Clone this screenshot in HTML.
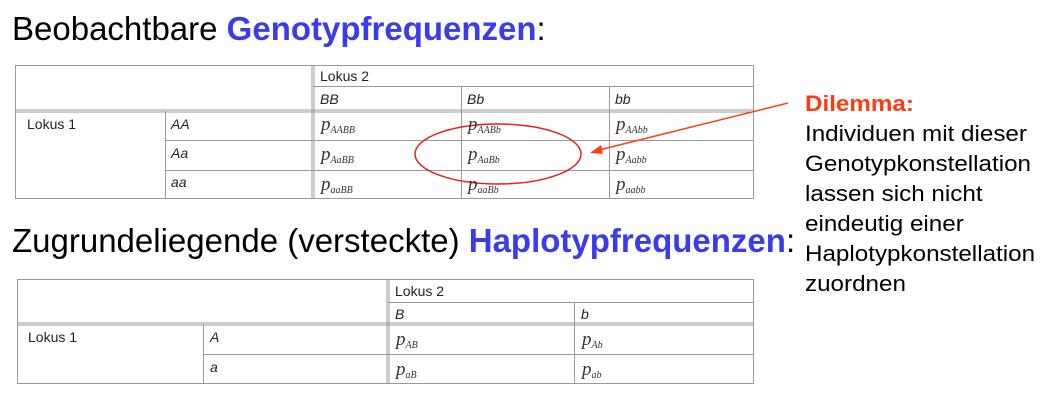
<!DOCTYPE html>
<html><head><meta charset="utf-8"><style>
body{margin:0;width:1049px;height:402px;background:#fff;position:relative;overflow:hidden;font-family:"Liberation Sans",sans-serif}
.t{position:absolute;white-space:nowrap}
.h{font-size:33px;color:#000}
.b{color:#3a3af0;font-weight:bold}
.c{position:absolute;font-family:"Liberation Sans",sans-serif;font-size:14px;color:#222}
.i{font-style:italic}
.p{position:absolute;font-family:"Liberation Serif",serif;font-style:italic;font-size:19px;color:#333}
.p sub{font-size:10px;vertical-align:-3px}
.r{position:absolute;font-size:22px;line-height:30px;color:#000;white-space:nowrap;transform:scaleX(1.1);transform-origin:0 0}
</style></head><body>
<div class="t h" style="left:12px;top:10px">Beobachtbare <span class="b">Genotypfrequenzen</span>:</div>
<div class="t h" style="left:12px;top:222px">Zugrundeliegende (versteckte) <span class="b">Haplotypfrequenzen</span>:</div>
<svg width="1049" height="402" style="position:absolute;left:0;top:0">
<g stroke="#999" stroke-width="1" fill="none">
<rect x="15.5" y="65.5" width="738" height="133"/>
<line x1="313" y1="86.5" x2="754" y2="86.5"/>
<line x1="15" y1="110" x2="754" y2="110"/><line x1="15" y1="112" x2="754" y2="112"/>
<line x1="165" y1="140.5" x2="754" y2="140.5"/><line x1="165" y1="170.5" x2="754" y2="170.5"/>
<line x1="165.5" y1="111" x2="165.5" y2="199"/>
<line x1="312" y1="65" x2="312" y2="199"/><line x1="314" y1="65" x2="314" y2="199"/>
<line x1="461.5" y1="87" x2="461.5" y2="199"/><line x1="609.5" y1="87" x2="609.5" y2="199"/>
<rect x="17.5" y="279.5" width="736" height="104"/>
<line x1="388" y1="302.5" x2="754" y2="302.5"/>
<line x1="17" y1="323" x2="754" y2="323"/><line x1="17" y1="325" x2="754" y2="325"/>
<line x1="203" y1="354.5" x2="754" y2="354.5"/>
<line x1="203.5" y1="324" x2="203.5" y2="384"/>
<line x1="387" y1="279" x2="387" y2="384"/><line x1="389" y1="279" x2="389" y2="384"/>
<line x1="574.5" y1="303" x2="574.5" y2="384"/>
</g>
<ellipse cx="498" cy="154" rx="83" ry="30" stroke="#e52020" stroke-width="1.5" fill="none"/>
<line x1="788" y1="103" x2="595" y2="151" stroke="#ff4010" stroke-width="1.5"/>
<polygon points="590,153 601,145 603,154" fill="#ff4010"/>
</svg>
<div class="c" style="left:320px;top:68px">Lokus 2</div>
<div class="c i" style="left:320px;top:91px">BB</div>
<div class="c i" style="left:467px;top:91px">Bb</div>
<div class="c i" style="left:615px;top:91px">bb</div>
<div class="c" style="left:27px;top:116px">Lokus 1</div>
<div class="c i" style="left:171px;top:116px">AA</div>
<div class="c i" style="left:171px;top:145px">Aa</div>
<div class="c i" style="left:171px;top:174px">aa</div>
<div class="p" style="left:321px;top:114px">p<sub>AABB</sub></div>
<div class="p" style="left:468px;top:114px">p<sub>AABb</sub></div>
<div class="p" style="left:616px;top:114px">p<sub>AAbb</sub></div>
<div class="p" style="left:321px;top:144px">p<sub>AaBB</sub></div>
<div class="p" style="left:468px;top:144px">p<sub>AaBb</sub></div>
<div class="p" style="left:616px;top:144px">p<sub>Aabb</sub></div>
<div class="p" style="left:321px;top:174px">p<sub>aaBB</sub></div>
<div class="p" style="left:468px;top:174px">p<sub>aaBb</sub></div>
<div class="p" style="left:616px;top:174px">p<sub>aabb</sub></div>
<div class="c" style="left:395px;top:283px">Lokus 2</div>
<div class="c i" style="left:395px;top:306px">B</div>
<div class="c i" style="left:581px;top:306px">b</div>
<div class="c" style="left:28px;top:329px">Lokus 1</div>
<div class="c i" style="left:210px;top:329px">A</div>
<div class="c i" style="left:210px;top:359px">a</div>
<div class="p" style="left:396px;top:329px">p<sub>AB</sub></div>
<div class="p" style="left:582px;top:329px">p<sub>Ab</sub></div>
<div class="p" style="left:396px;top:359px">p<sub>aB</sub></div>
<div class="p" style="left:582px;top:359px">p<sub>ab</sub></div>
<div class="r" style="left:805px;top:89px"><b style="color:#ff3a10">Dilemma:</b><br>Individuen mit dieser<br>Genotypkonstellation<br>lassen sich nicht<br>eindeutig einer<br>Haplotypkonstellation<br>zuordnen</div>
</body></html>
